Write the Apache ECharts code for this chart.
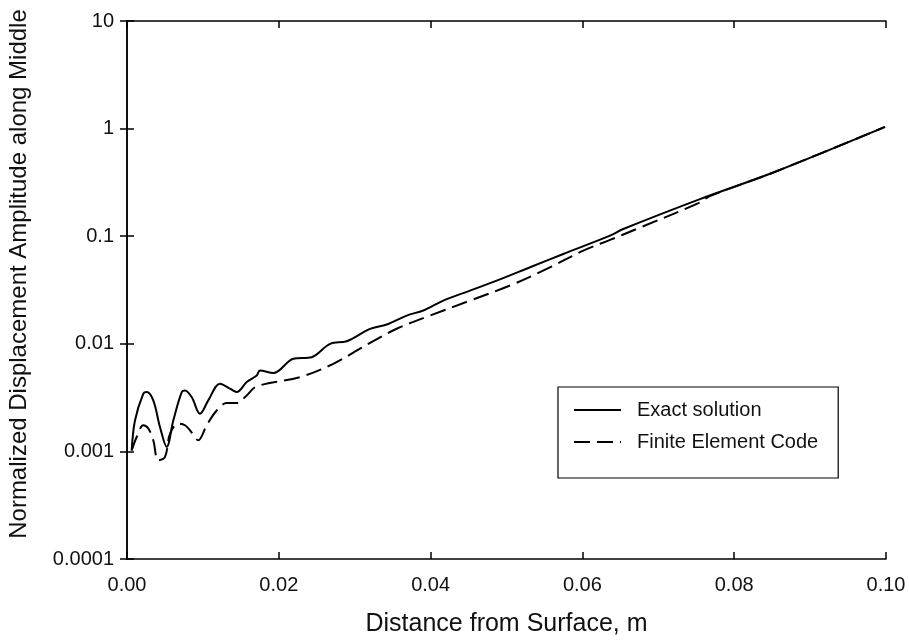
<!DOCTYPE html>
<html>
<head>
<meta charset="utf-8">
<script src="https://cdn.jsdelivr.net/npm/echarts@6/dist/echarts.min.js"></script>
<style>html,body{margin:0;padding:0;background:#fff;}#c{width:909px;height:643px;}</style>
</head>
<body>
<div id="c"></div>
<script>
// Exact solution (x in m, normalized amplitude)
const exactX = [0.00062,0.00105,0.00215,0.00260,0.00346,0.00435,0.00523,0.00610,0.00721,0.00764,0.00852,0.00962,0.01071,0.01225,0.01357,0.01445,0.01577,0.01709,0.01752,0.01928,0.02191,0.02433,0.02675,0.02895,0.03202,0.03422,0.03685,0.03904,0.04167,0.04519,0.04871,0.05310,0.05748,0.06364,0.06539,0.07549,0.08515,0.09987];
const exactY = [0.00102,0.00194,0.00344,0.00356,0.00298,0.00168,0.00110,0.00194,0.00356,0.00369,0.00320,0.00224,0.00298,0.00426,0.00383,0.00356,0.00441,0.00508,0.00565,0.00534,0.00726,0.00751,0.0100,0.01057,0.01377,0.0151,0.0183,0.0204,0.0252,0.0312,0.0386,0.0514,0.0684,0.1011,0.1167,0.2213,0.3907,1.037];
// Finite element code
const feX = [0.00062,0.00128,0.00215,0.00281,0.00346,0.00412,0.00501,0.00567,0.00676,0.00764,0.00830,0.00939,0.01050,0.01182,0.01314,0.01445,0.01577,0.01709,0.02279,0.02718,0.03070,0.03179,0.03553,0.03992,0.04519,0.05046,0.05530,0.06012,0.06364,0.06715,0.07549,0.0768,0.08515,0.09987];
const feY = [0.00102,0.00136,0.00175,0.00163,0.00127,0.000827,0.000888,0.00146,0.00181,0.00175,0.00157,0.00127,0.00175,0.00240,0.00281,0.00281,0.00331,0.00402,0.0049,0.00652,0.0090,0.0100,0.0138,0.0183,0.0252,0.0348,0.0496,0.0734,0.0923,0.1167,0.206,0.236,0.3907,1.037];
const seriesNames = ['Exact solution','Finite Element Code'];
const yTickLabels = ['0.0001','0.001','0.01','0.1','1','10'];
const xTickLabels = ['0.00','0.02','0.04','0.06','0.08','0.10'];
const xTitle = 'Distance from Surface, m';
const yTitle = 'Normalized Displacement Amplitude along Middle';

const FONT = '"Liberation Sans", Arial, Helvetica, sans-serif';
const zip = (xs, ys) => xs.map((x, i) => [x, ys[i]]);
const yLab = v => yTickLabels[Math.round(Math.log10(v)) + 4] || '';
const xLab = v => xTickLabels[Math.round(v / 0.02)] || '';

const axisLine = {show: true, lineStyle: {color: '#000', width: 1.5}};
const tick = {show: true, inside: true, length: 7, lineStyle: {color: '#000', width: 1.5}};

const chart = echarts.init(document.getElementById('c'), null, {renderer: 'canvas'});
chart.setOption({
  animation: false,
  backgroundColor: '#fff',
  textStyle: {fontFamily: FONT},
  grid: {left: 127, right: 23, top: 21, bottom: 84, containLabel: false, outerBoundsMode: 'none'},
  legend: {
    left: 558, top: 387,
    orient: 'vertical',
    data: seriesNames,
    itemWidth: 47, itemHeight: 14, itemGap: 8,
    padding: [11, 20, 24, 15],
    borderColor: '#000', borderWidth: 1.2,
    itemStyle: {opacity: 0},
    textStyle: {fontFamily: FONT, fontSize: 20, color: '#111', lineHeight: 24, padding: [0, 0, 0, 11]},
    inactiveColor: '#000'
  },
  xAxis: [{
    type: 'value', min: 0, max: 0.1, interval: 0.02,
    name: xTitle, nameLocation: 'middle', nameGap: 53,
    nameTextStyle: {fontFamily: FONT, fontSize: 25, color: '#111'},
    axisLine: axisLine, axisTick: tick, splitLine: {show: false},
    axisLabel: {formatter: xLab, fontFamily: FONT, fontSize: 20, color: '#111', margin: 16}
  }, {
    type: 'value', min: 0, max: 0.1, interval: 0.02, position: 'top',
    axisLine: axisLine, axisTick: tick, splitLine: {show: false},
    axisLabel: {show: false}
  }],
  yAxis: [{
    type: 'log', logBase: 10, min: 0.0001, max: 10,
    name: yTitle, nameLocation: 'middle', nameGap: 96,
    nameTextStyle: {fontFamily: FONT, fontSize: 24, color: '#111', padding: [0, 0, 0, 32]},
    axisLine: axisLine, axisTick: tick, splitLine: {show: false}, minorTick: {show: false},
    axisLabel: {formatter: yLab, fontFamily: FONT, fontSize: 20, color: '#111', margin: 13}
  }, {
    type: 'log', logBase: 10, min: 0.0001, max: 10, position: 'right',
    axisLine: axisLine, axisTick: tick, splitLine: {show: false},
    axisLabel: {show: false}
  }],
  series: [{
    name: seriesNames[0], type: 'line', xAxisIndex: 0, yAxisIndex: 0,
    data: zip(exactX, exactY), symbol: 'none', smooth: 0.35,
    lineStyle: {color: '#000', width: 2}, itemStyle: {color: '#000'}
  }, {
    name: seriesNames[1], type: 'line', xAxisIndex: 0, yAxisIndex: 0,
    data: zip(feX, feY), symbol: 'none', smooth: 0.35,
    lineStyle: {color: '#000', width: 2, type: [16, 7]}, itemStyle: {color: '#000'}
  }]
});
</script>
</body>
</html>
